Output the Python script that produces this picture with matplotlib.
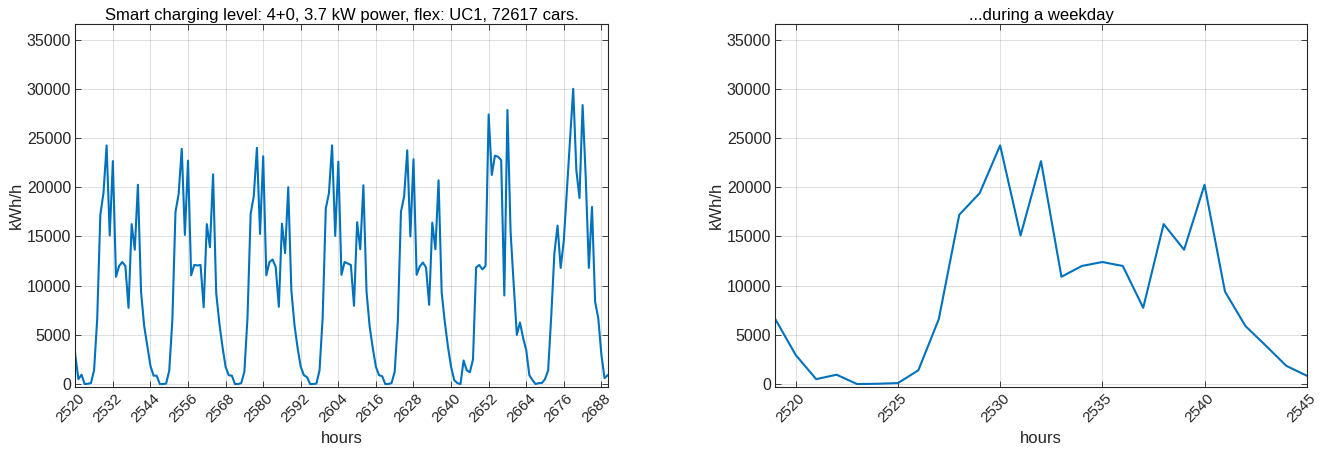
"""
Smart charging load: one week of hourly demand plus a zoom on one weekday.
Output: out.png
"""

import matplotlib
matplotlib.use("Agg")
import matplotlib.pyplot as plt
import matplotlib.transforms as mtransforms
import numpy as np

plt.rcParams["font.family"] = ["Liberation Sans", "DejaVu Sans"]

FIRST_HOUR = 2519

# kWh/h per hour
lead = [6600]                                     # 2519
day1 = [2950, 500, 950, 0, 30, 100, 1400, 6600, 17200, 19400, 24250, 15100,
        22650, 10900, 12000, 12400, 12000, 7750, 16250, 13650, 20250, 9400, 5900, 3900]
day2 = [1850, 850, 850, 0, 0, 50, 1350, 6500, 17500, 19300, 23900, 15150,
        22700, 11050, 12100, 12050, 12100, 7800, 16250, 13900, 21300, 9250, 6200, 3800]
day3 = [1750, 900, 850, 0, 0, 100, 1250, 6800, 17300, 19100, 24000, 15250,
        23150, 11050, 12400, 12650, 11900, 7850, 16300, 13300, 20000, 9500, 6000, 3650]
day4 = [1750, 900, 700, 0, 0, 50, 1400, 6800, 17850, 19400, 24250, 15050,
        22600, 11100, 12400, 12250, 12100, 7950, 16450, 13700, 20200, 9400, 5850, 3650]
day5 = [1750, 900, 800, 0, 0, 100, 1250, 6400, 17500, 19050, 23750, 15000,
        22850, 11100, 11950, 12350, 11850, 8050, 16400, 13700, 20700, 9300, 6300, 3800]
day6 = [1750, 400, 100, 0, 2400, 1400, 1200, 2500, 11850, 12100, 11650, 12000,
        27400, 21250, 23200, 23100, 22750, 9000, 27850, 15500, 10100, 5000, 6250, 4700]
day7 = [3450, 900, 400, 0, 100, 100, 500, 1400, 7000, 13300, 16100, 11800,
        14600, 19800, 24900, 30000, 21750, 18900, 28350, 21000, 11800, 18000, 8350, 6700]
tail = [3000, 600, 900]                           # 2688-2690

load = np.array(lead + day1 + day2 + day3 + day4 + day5 + day6 + day7 + tail, dtype=float)
hours = FIRST_HOUR + np.arange(len(load))

TITLE_WEEK = "Smart charging level: 4+0, 3.7 kW power, flex: UC1, 72617 cars."
TITLE_DAY = "...during a weekday"
WEEK_TICKS = list(range(2520, 2689, 12))
DAY_TICKS = list(range(2520, 2546, 5))
Y_TICKS = list(range(0, 35001, 5000))

LINE_COLOR = "#0072BD"
EDGE = "#262626"


def _style(fig, ax, xticks, xlim, title):
    ax.plot(hours, load, color=LINE_COLOR, linewidth=1.5)
    ax.set_xlim(*xlim)
    ax.set_ylim(-270, 36550)
    ax.set_xticks(xticks)
    ax.set_yticks(Y_TICKS)
    ax.set_xticklabels([str(t) for t in xticks], rotation=45, ha="right",
                       va="center", rotation_mode="anchor", fontsize=11)
    ax.tick_params(direction="in", length=4, width=0.6, colors=EDGE,
                   labelsize=11.5, labelcolor=EDGE, top=True, right=True, pad=3)
    ax.tick_params(axis="x", pad=7, labelsize=11)
    # MATLAB puts the end of a rotated label a little right of its tick
    shift = mtransforms.ScaledTranslation(0.07, 0, fig.dpi_scale_trans)
    for lab in ax.get_xticklabels():
        lab.set_transform(lab.get_transform() + shift)
    for s in ax.spines.values():
        s.set_color(EDGE)
        s.set_linewidth(0.8)
    ax.grid(True, color=EDGE, alpha=0.17, linewidth=0.6)
    ax.set_axisbelow(True)
    ax.set_xlabel("hours", fontsize=12, color=EDGE, labelpad=4)
    ax.set_ylabel("kWh/h", fontsize=12, color=EDGE, labelpad=2)
    ax.set_title(title, fontsize=12, color="black", pad=3)


fig = plt.figure(figsize=(13.23, 4.54), dpi=100)
ax1 = fig.add_axes([0.0569, 0.1482, 0.4024, 0.7982])
ax2 = fig.add_axes([0.5860, 0.1482, 0.4017, 0.7982])

_style(fig, ax1, WEEK_TICKS, (2520, 2690), TITLE_WEEK)
_style(fig, ax2, DAY_TICKS, (2519, 2545), TITLE_DAY)

fig.savefig("out.png", dpi=100)
plt.close(fig)
